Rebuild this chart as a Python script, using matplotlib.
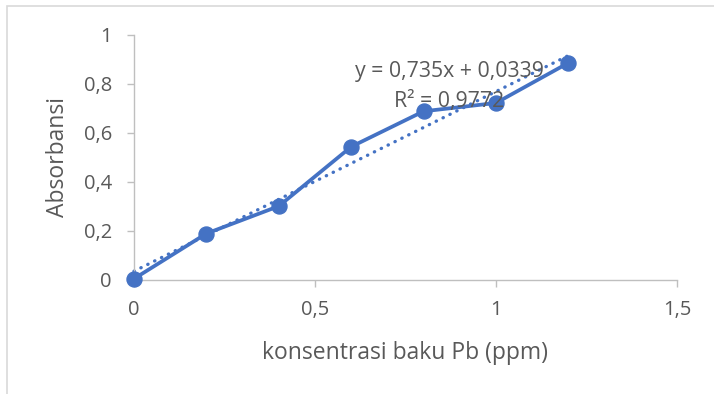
import matplotlib
matplotlib.use("Agg")
import matplotlib.pyplot as plt
from matplotlib.patches import Rectangle
from matplotlib.ticker import FixedLocator

# data
conc = [0.0, 0.2, 0.4, 0.6, 0.8, 1.0, 1.2]
absorb = [0.003, 0.188, 0.300, 0.543, 0.688, 0.722, 0.886]
slope = 0.735
intercept = 0.0339
r2_text = "R² = 0,9772"
eq_text = "y = 0,735x + 0,0339"
xticks = [0, 0.5, 1, 1.5]
xtick_labels = ["0", "0,5", "1", "1,5"]
yticks = [0, 0.2, 0.4, 0.6, 0.8, 1.0]
ytick_labels = ["0", "0,2", "0,4", "0,6", "0,8", "1"]
xlabel = "konsentrasi baku Pb (ppm)"
ylabel = "Absorbansi"

plt.rcParams['font.family'] = ['Open Sans', 'DejaVu Sans']
txt = '#595959'
blue = '#4472C4'
grid = '#BFBFBF'
fs = 14.5

fig = plt.figure(figsize=(7.14, 3.94), dpi=100)
fig.patches.append(Rectangle((7/714, -0.1), 1.2, (394-6)/394 + 0.1, transform=fig.transFigure,
                             fill=False, edgecolor='#D9D9D9', linewidth=1.2))
ax = fig.add_axes([134/714, 1-279.5/394, (677-134)/714, (279.5-35)/394])

ax.plot(conc, absorb, color=blue, linewidth=2.7, marker='o', markersize=10.8,
        zorder=3, clip_on=False)
tx = [conc[0], conc[-1]]
ty = [slope*x + intercept for x in tx]
ax.plot(tx, ty, color=blue, linewidth=2.4, linestyle=(0, (0.1, 2.2)),
        dash_capstyle='round', zorder=2, clip_on=False)

ax.set_xlim(0, 1.5)
ax.set_ylim(0, 1)
ax.xaxis.set_major_locator(FixedLocator(xticks))
ax.set_xticklabels(xtick_labels)
ax.yaxis.set_major_locator(FixedLocator(yticks))
ax.set_yticklabels(ytick_labels)

for s in ['top', 'right']:
    ax.spines[s].set_visible(False)
for s in ['left', 'bottom']:
    ax.spines[s].set_color(grid)
    ax.spines[s].set_linewidth(1.0)
ax.tick_params(axis='both', colors=grid, labelcolor=txt, labelsize=fs,
               length=5, width=1.0, direction='out')
ax.tick_params(axis='y', pad=11)
ax.tick_params(axis='x', pad=10)

ax.set_xlabel(xlabel, fontsize=16.5, color=txt, labelpad=15)
ax.set_ylabel(ylabel, fontsize=16.5, color=txt, labelpad=10)

ax.text(0.87, 0.849, eq_text, fontsize=15.3, color=txt, ha='center', va='center',
        transform=ax.transData, zorder=4)
ax.text(0.87, 0.73, r2_text, fontsize=15.3, color=txt, ha='center', va='center',
        transform=ax.transData, zorder=4)

fig.savefig("out.png", dpi=100)
